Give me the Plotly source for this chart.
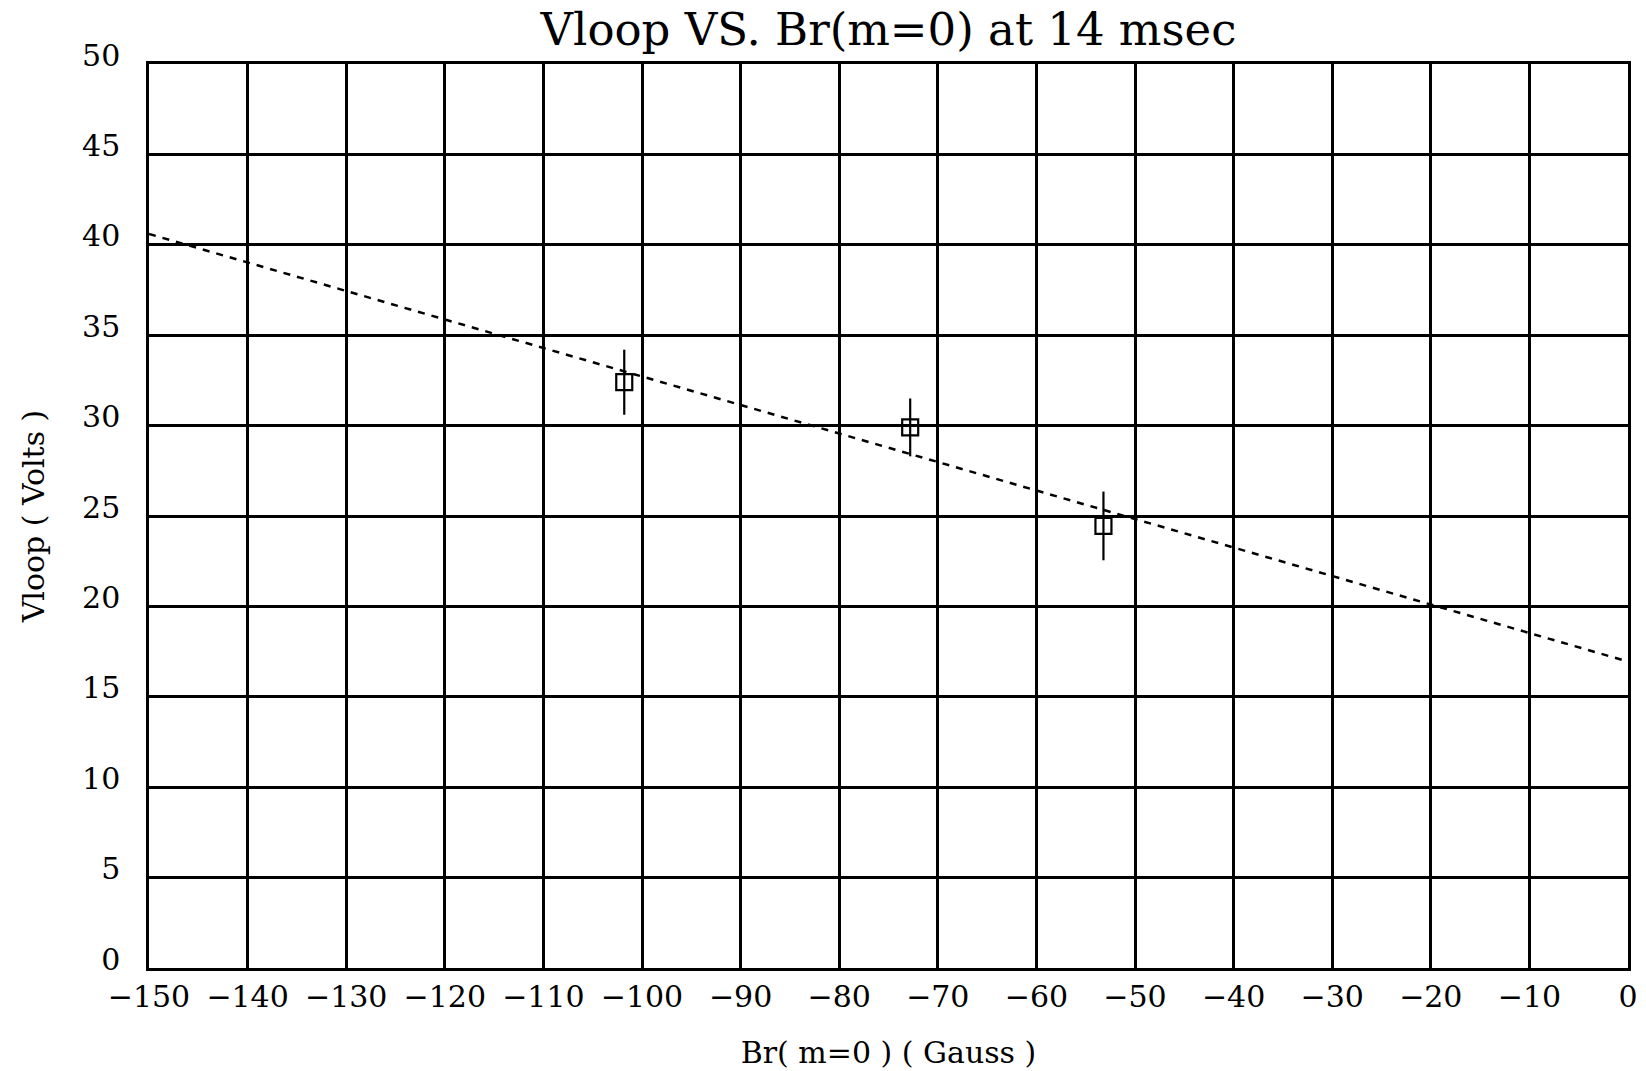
import plotly.graph_objects as go

# Data
br = [-101.8, -72.8, -53.2]
vloop = [32.4, 29.9, 24.45]
vloop_err = [1.8, 1.6, 1.9]
fit_br = [-150, 0]
fit_vloop = [40.6, 16.95]

x_ticks = list(range(-150, 1, 10))
y_ticks = list(range(0, 51, 5))

FONT = "DejaVu Serif"

fig = go.Figure()
fig.add_trace(go.Scatter(
    x=fit_br, y=fit_vloop, mode="lines",
    line=dict(color="black", width=2.5, dash="7px,7px"),
    showlegend=False, hoverinfo="skip"))
fig.add_trace(go.Scatter(
    x=br, y=vloop, mode="markers",
    marker=dict(symbol="square-open", size=16, color="black", line=dict(width=2.2, color="black")),
    error_y=dict(type="data", array=vloop_err, visible=True, color="black", thickness=2.2, width=0),
    showlegend=False))

fig.update_layout(
    width=1646, height=1071,
    paper_bgcolor="white", plot_bgcolor="white",
    margin=dict(l=149, r=18, t=64, b=103, autoexpand=False),
    title=dict(text="Vloop VS. Br(m=0) at 14 msec", xref="paper", x=0.5, xanchor="center",
               yref="container", y=1 - 29/1071, yanchor="middle",
               font=dict(family=FONT, size=45, color="black")),
    font=dict(family=FONT, color="black"),
)
fig.update_xaxes(
    range=[-150, 0], tickvals=x_ticks, ticktext=[("\u2212" + str(-v)) if v < 0 else str(v) for v in x_ticks],
    showgrid=True, gridcolor="black", gridwidth=2.5, automargin=False,
    showline=True, linecolor="black", linewidth=2.5, mirror=True, zeroline=False,
    ticks="", tickfont=dict(family=FONT, size=30, color="black"),
    title=dict(text="Br( m=0 ) ( Gauss )", font=dict(family=FONT, size=30, color="black"), standoff=30),
)
fig.update_yaxes(
    range=[0, 50], tickvals=y_ticks, automargin=False,
    showgrid=True, gridcolor="black", gridwidth=2.5,
    showline=True, linecolor="black", linewidth=2.5, mirror=True, zeroline=False,
    ticks="", tickfont=dict(family=FONT, size=30, color="black"), ticklabelshift=-9, ticklabelstandoff=20,
    title=dict(text="Vloop ( Volts )", font=dict(family=FONT, size=30, color="black"), standoff=29),
)

fig.write_html("out.html", config={"displayModeBar": False},
               post_script="document.body.style.margin='0';")
